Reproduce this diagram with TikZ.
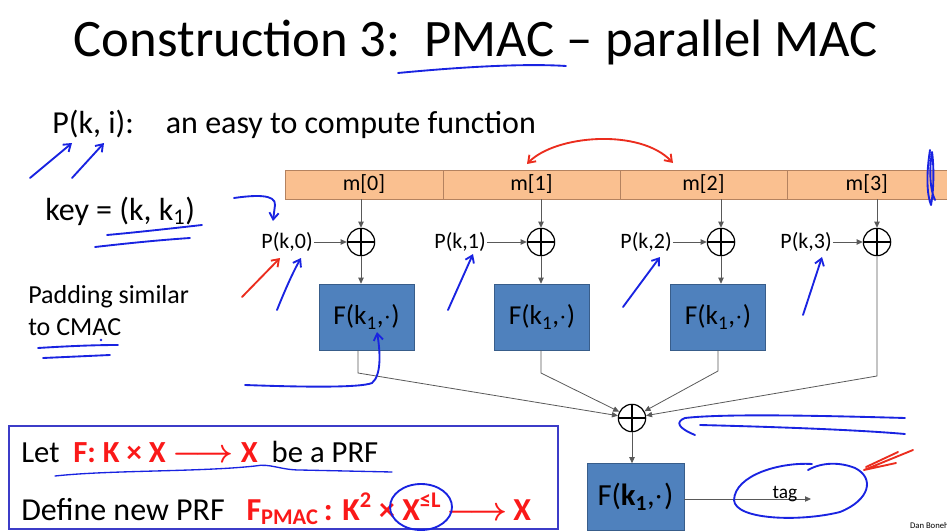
\documentclass[tikz,border=0pt]{standalone}
\usepackage{fontspec}
\setmainfont{Carlito}
\usetikzlibrary{arrows.meta}

\definecolor{msgfill}{RGB}{250,192,144}
\definecolor{msgdraw}{RGB}{180,130,95}
\definecolor{prffill}{RGB}{79,129,189}
\definecolor{prfdraw}{RGB}{56,93,138}
\definecolor{penblue}{RGB}{25,35,225}
\definecolor{penred}{RGB}{235,45,30}
\definecolor{boxblue}{RGB}{60,60,200}
\definecolor{slred}{RGB}{250,25,25}

\begin{document}
\begin{tikzpicture}[x=0.75pt,y=0.75pt,yscale=-1,xscale=1,
  seg/.style={draw=msgdraw, fill=msgfill, minimum height=21.75pt, inner sep=0pt, font=\fontsize{16.5}{19}\selectfont},
  xorop/.style={circle, draw, line width=0.9pt, minimum size=20.5pt, inner sep=0pt,
    path picture={\draw[line width=0.9pt] (path picture bounding box.north) -- (path picture bounding box.south)
      (path picture bounding box.west) -- (path picture bounding box.east);}},
  prf/.style={draw=prfdraw, fill=prffill, minimum width=71pt, minimum height=49.5pt, inner sep=0pt, font=\fontsize{20.5}{24}\selectfont},
  lbl/.style={inner sep=0.75pt, font=\fontsize{16.5}{19}\selectfont},
  wire/.style={draw=black!65, line width=0.6pt},
  tip/.style={-{Triangle[length=4.5pt,width=4pt]}},
  ink/.style={draw=penblue, line width=1.4pt, line cap=round, line join=round},
  redink/.style={ink, draw=penred},
  barb/.style={-{Straight Barb[length=5pt,width=7pt]}},
]
\useasboundingbox (0,0) rectangle (947,532);

% Title
\node[anchor=base, inner sep=0pt, font=\fontsize{39.5}{46}\selectfont] (title) at (476,56) {Construction 3:\ \ PMAC – parallel MAC};

% Text Nodes
\node[anchor=base west, inner sep=0pt, font=\fontsize{24}{29}\selectfont] (ptxt) at (52,133) {P(k, i):\quad an easy to compute function};
\node[anchor=base west, inner sep=0pt, font=\fontsize{24}{29}\selectfont] (key) at (45,220) {key = (k, k\textsubscript{1})};
\node[anchor=base west, inner sep=0pt, font=\fontsize{19.5}{23}\selectfont] (pad1) at (28,303) {Padding similar};
\node[anchor=base west, inner sep=0pt, font=\fontsize{19.5}{23}\selectfont] (pad2) at (28,335) {to CMAC};

% Message blocks
\node[seg, minimum width=118.5pt] (m0) at (364,184.5) {m[0]};
\node[seg, minimum width=132.75pt] (m1) at (531.5,184.5) {m[1]};
\node[seg, minimum width=125.25pt] (m2) at (703.5,184.5) {m[2]};
\node[seg, minimum width=129.75pt] (m3) at (873.5,184.5) {\hspace*{-10pt}m[3]};

% XOR with P(k,i)
\node[xorop] (x0) at (361,242) {};
\node[xorop] (x1) at (541,242) {};
\node[xorop] (x2) at (721,242) {};
\node[xorop] (x3) at (877,242) {};
\node[lbl, anchor=east] (p0) at (314,242) {P(k,0)};
\node[lbl, anchor=east] (p1) at (487,242) {P(k,1)};
\node[lbl, anchor=east] (p2) at (673,242) {P(k,2)};
\node[lbl, anchor=east] (p3) at (833,242) {P(k,3)};
\foreach \i in {0,...,3}{
  \draw[wire,tip] (m\i.south -| x\i) -- (x\i);
  \draw[wire,tip] (p\i) -- (x\i);
}

% PRF boxes
\node[prf] (f0) at (366.5,317) {F(k\textsubscript{1},$\cdot$)};
\node[prf] (f1) at (542,317) {F(k\textsubscript{1},$\cdot$)};
\node[prf] (f2) at (718,317) {F(k\textsubscript{1},$\cdot$)};
\foreach \i in {0,1,2}
  \draw[wire,tip] (x\i) -- (x\i |- f\i.north);

% Final XOR and PRF
\node[xorop] (xf) at (632,418) {};
\coordinate (j0) at (358,373);
\coordinate (j1) at (541,373);
\coordinate (j2) at (718,371);
\coordinate (j3) at (877,376);
\draw[wire,tip] (f0.south -| j0) -- (j0) -- (xf);
\draw[wire,tip] (f1.south -| j1) -- (j1) -- (xf);
\draw[wire,tip] (f2.south -| j2) -- (j2) -- (xf);
\draw[wire,tip] (x3) -- (j3) -- (xf);
\node[prf, minimum width=72.75pt, minimum height=50.25pt, font=\fontsize{23}{27}\selectfont] (ff) at (635.5,497) {F(\textbf{k\textsubscript{1}},$\cdot$)};
\draw[wire,tip] (xf) -- (xf |- ff.north);
\coordinate (tagend) at (811,499);
\draw[wire,tip] (ff.east |- tagend) -- (tagend);
\node[anchor=base, inner sep=0pt, font=\fontsize{14.5}{17}\selectfont] (tag) at (785,498) {tag};
\node[anchor=base east, inner sep=0pt, font=\fontsize{6.5}{8}\selectfont] (author) at (949,528) {Dan Boneh};

% PRF definition box
\draw[draw=boxblue, line width=1.6pt] (9,426) rectangle (558,529);
\node[anchor=base west, inner sep=0pt, font=\fontsize{23}{28}\selectfont] (let) at (21,462)
  {Let\ \ {\color{slred}\bfseries F: K × X {\boldmath$\longrightarrow$} X}\ \ be a PRF};
\node[anchor=base west, inner sep=0pt, font=\fontsize{24}{29}\selectfont] (def) at (21,520)
  {Define new PRF\ \ \ {\color{slred}\bfseries F\textsubscript{PMAC}\,: K\textsuperscript{2} × X\textsuperscript{≤L}\,{\boldmath$\longrightarrow$}\,X}};

% Pen annotations
\draw[ink] (398,73) .. controls (450,68) and (520,63) .. (566,66);
\draw[ink,barb] (30,178) -- (72,143);
\draw[ink,barb] (72,178) -- (104,143);
\draw[ink] (107,235) .. controls (140,232) and (175,228) .. (202,225);
\draw[ink] (95,247) .. controls (130,243) and (160,240) .. (190,238);
\draw[ink,barb] (234,198) .. controls (255,195) and (276,194) .. (275,205) -- (273,221);
\draw[redink,barb] (242,297) -- (280,258);
\draw[ink,barb] (277,310) .. controls (285,290) and (293,272) .. (301,258);
\draw[ink,barb] (448,310) -- (473,254);
\draw[ink,barb] (623,307) -- (660,257);
\draw[ink,barb] (803,315) -- (822,257);
\draw[ink] (38,348) .. controls (70,346) and (95,345) .. (118,345);
\draw[ink] (43,358) -- (110,355);
\fill[penblue] (101,340) circle (1.3);
\draw[redink,{Straight Barb[length=5pt,width=7pt]}-{Straight Barb[length=5pt,width=7pt]}] (527,164) .. controls (555,135) and (640,128) .. (673,163);
\draw[ink] (930,150) .. controls (926,175) and (927,195) .. (931,205) .. controls (934,190) and (934,165) .. (932,152) .. controls (929,170) and (930,190) .. (935,200);
\draw[ink,barb] (245,385) .. controls (300,387) and (360,388) .. (372,383) .. controls (382,375) and (380,350) .. (377,332);
\draw[ink] (905,418) .. controls (800,415) and (720,414) .. (685,418) .. controls (675,422) and (678,428) .. (695,435);
\draw[ink] (700,425) .. controls (780,427) and (860,430) .. (905,434);
\draw[ink] (812,464) .. controls (780,462) and (735,475) .. (734,500) .. controls (735,520) and (800,522) .. (840,512) .. controls (870,500) and (875,478) .. (855,468) .. controls (840,462) and (822,462) .. (808,470);
\draw[redink] (913,450) -- (864,470) -- (896,463);
\draw[redink] (898,452) -- (866,467);
\draw[ink, line width=1pt] (55,476) .. controls (110,470) and (200,472) .. (255,466) .. controls (270,463) and (280,470) .. (300,470) -- (392,472);
\draw[ink] (421,507) ellipse [x radius=31, y radius=23];
\end{tikzpicture}
\end{document}
